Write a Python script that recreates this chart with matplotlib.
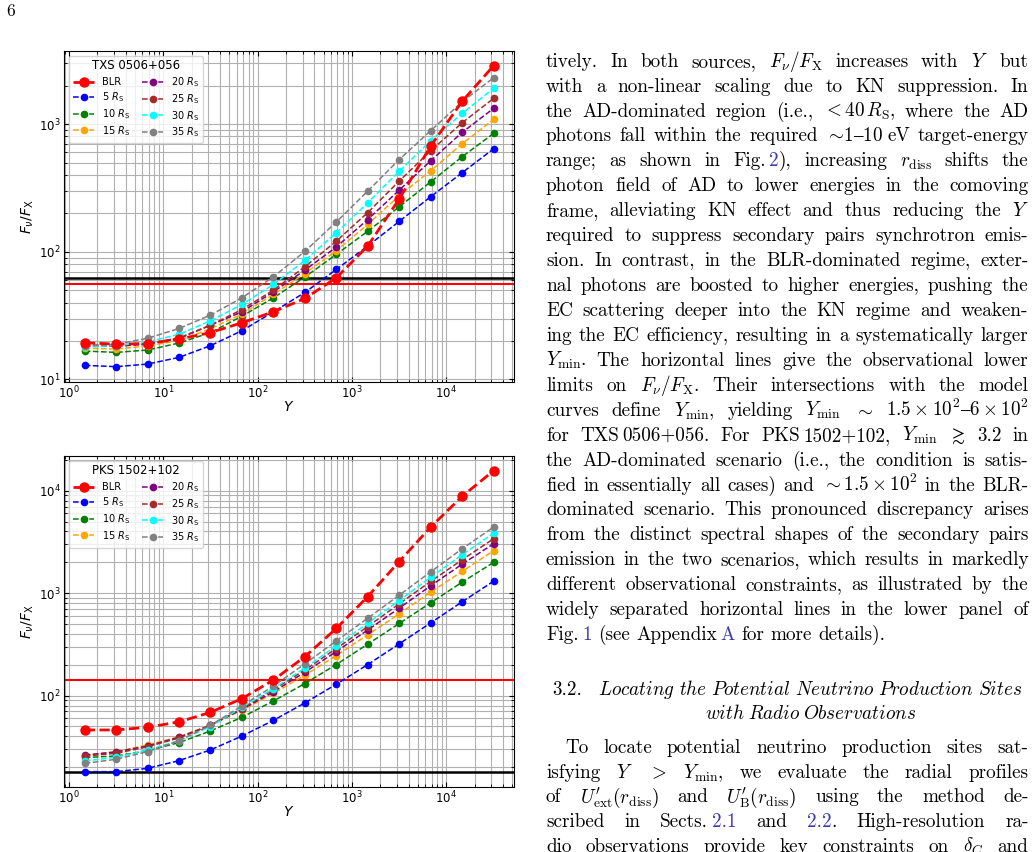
import matplotlib.pyplot as plt

W, H = 1036, 852

# model grid of Y (x axis), shared by both panels
Y = [1.47, 3.16, 6.81, 14.7, 31.6, 68.1, 147, 316, 681, 1468, 3162, 6813, 14678, 31623]

labels = ['BLR', r'5 $R_{\rm S}$', r'10 $R_{\rm S}$', r'15 $R_{\rm S}$',
          r'20 $R_{\rm S}$', r'25 $R_{\rm S}$', r'30 $R_{\rm S}$', r'35 $R_{\rm S}$']
colors = ['red', 'blue', 'green', 'orange', 'purple', 'brown', 'cyan', 'gray']

# TXS 0506+056  (F_nu / F_X)
txs_blr = [19.4, 18.9, 19.1, 20.7, 23.3, 27.8, 33.9, 43.1, 62.5, 111, 259, 673, 1507, 2866]
txs_r5 = [12.9, 12.6, 13.2, 14.9, 18.4, 24.1, 33.9, 48.0, 72.7, 111, 173, 270, 416, 641]
txs_r10 = [16.7, 16.3, 17.0, 19.3, 23.3, 31.3, 43.6, 63.4, 95.3, 145, 225, 353, 555, 845]
txs_r15 = [17.6, 17.3, 18.3, 20.2, 25.0, 32.5, 46.5, 67.6, 102, 164, 275, 431, 701, 1088]
txs_r20 = [18.2, 18.2, 18.9, 20.9, 26.6, 33.9, 48.6, 71.8, 109, 179, 304, 516, 861, 1327]
txs_r25 = [18.6, 18.6, 19.1, 21.2, 26.6, 35.3, 50.1, 76.3, 121, 203, 358, 618, 1024, 1589]
txs_r30 = [18.0, 18.4, 19.7, 22.6, 28.8, 38.7, 55.5, 85.5, 141, 242, 428, 740, 1213, 1903]
txs_r35 = [18.2, 18.9, 21.0, 25.1, 31.9, 43.6, 63.7, 100.7, 171, 299, 528, 887, 1496, 2307]
txs_limits = [(62.5, 'black'), (56.1, 'red')]

# PKS 1502+102
pks_blr = [46.2, 46.2, 49.1, 55.4, 68.7, 93.5, 142, 240, 452, 927, 2037, 4415, 8813, 15670]
pks_r5 = [18.1, 18.1, 19.5, 23.2, 29.5, 40.3, 57.4, 84.8, 129, 201, 320, 513, 822, 1309]
pks_r10 = [24.9, 25.7, 29.0, 34.8, 45.2, 61.4, 88.7, 131, 201, 318, 506, 805, 1280, 1995]
pks_r15 = [25.9, 28.4, 33.0, 39.7, 51.6, 71.9, 105, 158, 246, 392, 628, 1023, 1629, 2595]
pks_r20 = [26.3, 28.2, 32.2, 39.2, 51.3, 73.5, 109, 169, 269, 438, 714, 1180, 1920, 3034]
pks_r25 = [25.7, 27.3, 31.7, 38.6, 51.3, 74.6, 114, 178, 288, 472, 787, 1301, 2117, 3398]
pks_r30 = [23.0, 25.0, 29.4, 36.3, 49.8, 76.9, 117, 186, 306, 509, 848, 1433, 2370, 3851]
pks_r35 = [21.8, 23.9, 28.4, 36.3, 51.3, 79.3, 124, 204, 342, 570, 956, 1615, 2710, 4415]
pks_limits = [(142, 'red'), (18.1, 'black')]

txs = [txs_blr, txs_r5, txs_r10, txs_r15, txs_r20, txs_r25, txs_r30, txs_r35]
pks = [pks_blr, pks_r5, pks_r10, pks_r15, pks_r20, pks_r25, pks_r30, pks_r35]

fig = plt.figure(figsize=(W / 100, H / 100), dpi=100)


def panel(ax, curves, limits, title):
    for i, (v, lab, col) in enumerate(zip(curves, labels, colors)):
        if i == 0:
            ax.plot(Y, v, '--o', color=col, lw=2, ms=6.5, label=lab, zorder=4)
        else:
            ax.plot(Y, v, '--o', color=col, lw=1.1, ms=4.5, label=lab, zorder=3)
    for val, col in limits:
        ax.axhline(val, color=col, lw=1.8 if col == 'black' else 1.5, zorder=2)
    ax.set_xscale('log')
    ax.set_yscale('log')
    ax.grid(which='both', color='#b0b0b0', lw=0.8)
    ax.tick_params(which='both', direction='in', top=True, right=True, labelsize=8.5, pad=2.5)
    ax.set_xlabel('$Y$', fontsize=10, labelpad=-1)
    ax.set_ylabel(r'$F_\nu/F_{\rm X}$', fontsize=10)
    ax.yaxis.set_label_coords(-0.064, 0.5)
    ax.legend(title=title, ncol=2, loc='upper left', fontsize=7, title_fontsize=8.5,
              handlelength=2.2, columnspacing=1.2, labelspacing=0.3)


ax1 = fig.add_axes([64.3 / W, 1 - 381.7 / H, 449.7 / W, 331 / H])
panel(ax1, txs, txs_limits, 'TXS 0506+056')
ax2 = fig.add_axes([64.3 / W, 1 - 786.7 / H, 449.7 / W, 331 / H])
panel(ax2, pks, pks_limits, 'PKS 1502+102')

# ---- right column of the page ----
FS = 13.8
LINK = '#3a3ab0'
TXT = dict(fontsize=FS, family=['cmr10', 'DejaVu Serif'], math_fontfamily='cm', va='baseline')
R = fig.canvas.get_renderer()


def put(x, y, s, color='k', size=FS):
    kw = dict(TXT, fontsize=size)
    return fig.text(x / W, 1 - y / H, s, color=color, **kw)


def split_words(s):
    out, cur, inmath = [], '', False
    for ch in s:
        if ch == '$':
            inmath = not inmath
        if ch == ' ' and not inmath:
            if cur:
                out.append(cur)
            cur = ''
        else:
            cur += ch
    if cur:
        out.append(cur)
    return out


def make_word(w, y):
    # '~' = thin fixed space, '@..@' = link colour
    parts = []
    for k, sub in enumerate(w.split('~')):
        first = True
        for j, b in enumerate(sub.split('@')):
            if not b:
                continue
            t = put(0, y, b, LINK if j % 2 else 'k')
            gap = 3.5 if (k and first) else 0
            first = False
            parts.append((t, gap, t.get_window_extent(R).width))
    return parts


def line(s, y, x0=546, x1=1028.5, justify=True):
    words = [make_word(w, y) for w in split_words(s)]
    widths = [sum(g + wd for _, g, wd in p) for p in words]
    gap = FS * 1.389 * 0.33
    if justify and len(words) > 1:
        gap = (x1 - x0 - sum(widths)) / (len(words) - 1)
    x = x0
    for p in words:
        for t, g, wd in p:
            x += g
            t.set_x(x / W)
            x += wd
        x += gap


para1 = [
    r"tively. In both sources, $F_\nu/F_{\rm X}$ increases with $Y$ but",
    r"with a non-linear scaling due to KN suppression. In",
    r"the AD-dominated region (i.e., $<40\,R_{\rm S}$, where the AD",
    r"photons fall within the required $\sim\!1\mathrm{–}10$~eV target-energy",
    r"range; as shown in Fig.~@2@), increasing $r_{\rm diss}$ shifts the",
    r"photon field of AD to lower energies in the comoving",
    r"frame, alleviating KN effect and thus reducing the $Y$",
    r"required to suppress secondary pairs synchrotron emis-",
    r"sion. In contrast, in the BLR-dominated regime, exter-",
    r"nal photons are boosted to higher energies, pushing the",
    r"EC scattering deeper into the KN regime and weaken-",
    r"ing the EC efficiency, resulting in a systematically larger",
    r"$Y_{\rm min}$. The horizontal lines give the observational lower",
    r"limits on $F_\nu/F_{\rm X}$. Their intersections with the model",
    r"curves define $Y_{\rm min}$, yielding $Y_{\rm min}$ $\sim$ $1.5\times10^2\mathrm{–}6\times10^2$",
    r"for TXS~0506+056. For PKS~1502+102, $Y_{\rm min}$ $\gtrsim$ 3.2 in",
    r"the AD-dominated scenario (i.e., the condition is satis-",
    r"fied in essentially all cases) and $\sim1.5\times10^2$ in the BLR-",
    r"dominated scenario. This pronounced discrepancy arises",
    r"from the distinct spectral shapes of the secondary pairs",
    r"emission in the two scenarios, which results in markedly",
    r"different observational constraints, as illustrated by the",
    r"widely separated horizontal lines in the lower panel of",
    r"Fig.~@1@ (see Appendix~@A@ for more details).",
]
for k, s in enumerate(para1):
    line(s, 66.7 + 24.93 * k, justify=k < len(para1) - 1)

put(552.7, 695, '3.2.')
line(r"$\mathit{Locating}$ $\mathit{the}$ $\mathit{Potential}$ $\mathit{Neutrino}$ "
     r"$\mathit{Production}$ $\mathit{Sites}$", 695, x0=598, x1=1022)
line(r"$\mathit{with}$ $\mathit{Radio}$ $\mathit{Observations}$", 719.3, x0=705, x1=916)

para2 = [
    r"To locate potential neutrino production sites sat-",
    r"isfying $Y$ $>$ $Y_{\rm min}$, we evaluate the radial profiles",
    r"of $U^{\prime}_{\rm ext}(r_{\rm diss})$ and $U^{\prime}_{\rm B}(r_{\rm diss})$ using the method de-",
    r"scribed in Sects.~@2.1@ and @2.2@. High-resolution ra-",
    r"dio observations provide key constraints on $\delta_C$ and",
]
for k, s in enumerate(para2):
    line(s, 753.3 + 24.6 * k, x0=565 if k == 0 else 546)

put(6, 16, '6', size=12.5)

fig.savefig('out.png', dpi=100)
